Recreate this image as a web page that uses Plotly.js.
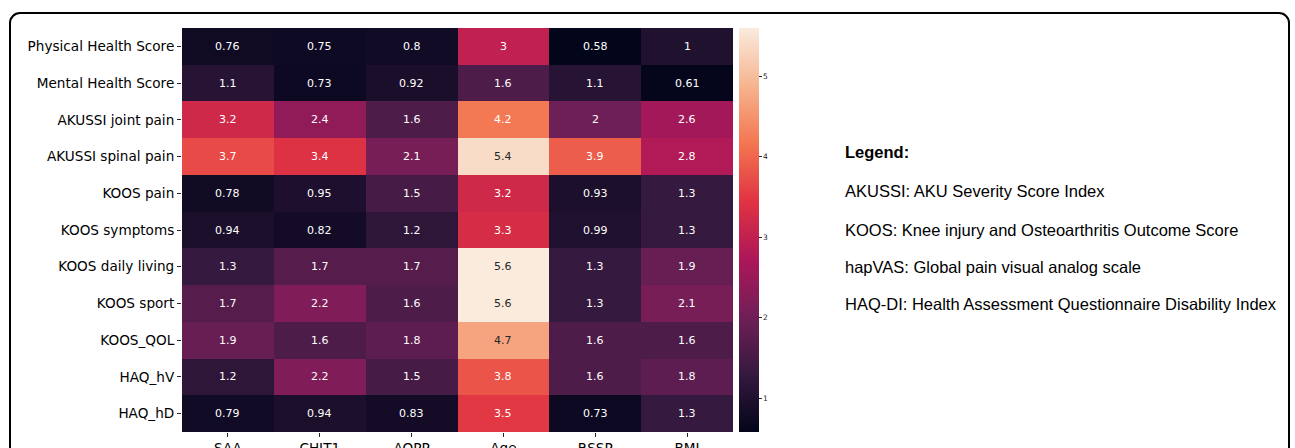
<!DOCTYPE html>
<html>
<head>
<meta charset="utf-8">
<script src="https://cdn.plot.ly/plotly-3.0.1.min.js"></script>
<style>
  html, body { margin: 0; padding: 0; background: #fff; overflow: hidden; }
  #wrap { position: relative; width: 1295px; height: 448px; overflow: hidden; }
  #frame { position: absolute; left: 9px; top: 12px; width: 1277px; height: 470px;
           border: 2px solid #000; border-radius: 11px; box-sizing: content-box; }
  #chart { position: absolute; left: 0; top: 0; width: 1295px; height: 448px; }
</style>
</head>
<body>
<div id="wrap">
  <div id="frame"></div>
  <div id="chart"></div>
</div>
<script>
// ---- data ----
var rowLabels = ["Physical Health Score", "Mental Health Score", "AKUSSI joint pain", "AKUSSI spinal pain",
  "KOOS pain", "KOOS symptoms", "KOOS daily living", "KOOS sport", "KOOS_QOL", "HAQ_hV", "HAQ_hD"];
var colLabels = ["SAA", "CHIT1", "AOPP", "Age", "RSSP", "BMI"];
var saa   = [0.76, 1.1, 3.2, 3.7, 0.78, 0.94, 1.3, 1.7, 1.9, 1.2, 0.79];
var chit1 = [0.75, 0.73, 2.4, 3.4, 0.95, 0.82, 1.7, 2.2, 1.6, 2.2, 0.94];
var aopp  = [0.8, 0.92, 1.6, 2.1, 1.5, 1.2, 1.7, 1.6, 1.8, 1.5, 0.83];
var age   = [3, 1.6, 4.2, 5.4, 3.2, 3.3, 5.6, 5.6, 4.7, 3.8, 3.5];
var rssp  = [0.58, 1.1, 2, 3.9, 0.93, 0.99, 1.3, 1.3, 1.6, 1.6, 0.73];
var bmi   = [1, 0.61, 2.6, 2.8, 1.3, 1.3, 1.9, 2.1, 1.6, 1.8, 1.3];
var colorbarTicks = [1, 2, 3, 4, 5];
var legendTitle = "Legend:";
var legendLines = [
  "AKUSSI: AKU Severity Score Index",
  "KOOS: Knee injury and Osteoarthritis Outcome Score",
  "hapVAS: Global pain visual analog scale",
  "HAQ-DI: Health Assessment Questionnaire Disability Index"
];

// ---- build matrix ----
var columns = [saa, chit1, aopp, age, rssp, bmi];
var z = rowLabels.map(function (r, i) { return columns.map(function (c) { return c[i]; }); });
var allVals = [].concat.apply([], z);
var zmin = Math.min.apply(null, allVals), zmax = Math.max.apply(null, allVals);

// seaborn "rocket" colormap (approx.)
var rocketStops = [
  [0.0, "#03051a"], [1/7, "#35193e"], [2/7, "#701f57"], [3/7, "#ad1759"],
  [4/7, "#e13342"], [5/7, "#f37651"], [6/7, "#f6b48f"], [1.0, "#faebdd"]
];
function hex2rgb(h) { return [parseInt(h.substr(1,2),16), parseInt(h.substr(3,2),16), parseInt(h.substr(5,2),16)]; }
function colorAt(t) {
  for (var k = 1; k < rocketStops.length; k++) {
    if (t <= rocketStops[k][0]) {
      var a = rocketStops[k-1], b = rocketStops[k];
      var f = (t - a[0]) / (b[0] - a[0]);
      var ca = hex2rgb(a[1]), cb = hex2rgb(b[1]);
      return [0,1,2].map(function (j) { return ca[j] + f * (cb[j] - ca[j]); });
    }
  }
  return hex2rgb(rocketStops[rocketStops.length-1][1]);
}
function lum(rgb) {
  var c = rgb.map(function (v) { v /= 255; return v <= 0.03928 ? v / 12.92 : Math.pow((v + 0.055) / 1.055, 2.4); });
  return 0.2126 * c[0] + 0.7152 * c[1] + 0.0722 * c[2];
}

// ---- geometry (pixels) ----
var W = 1295, H = 448;
var L = 182, R = 733, T = 28.3, B = 432.4;
var pw = R - L, ph = B - T;
function px2x(p) { return (p - L) / pw; }
function py2y(p) { return (B - p) / ph; }

var annotations = [];
rowLabels.forEach(function (r, i) {
  colLabels.forEach(function (c, j) {
    var v = z[i][j];
    var col = lum(colorAt((v - zmin) / (zmax - zmin))) > 0.408 ? "#262626" : "#ffffff";
    annotations.push({
      x: c, y: r, xref: "x", yref: "y", text: String(v), showarrow: false,
      font: { family: "DejaVu Sans", size: 11, color: col }
    });
  });
});

// legend text block
var legendX = px2x(842.5);
var legendYs = [152, 191, 230.5, 267.5, 304];
annotations.push({
  x: legendX, y: py2y(legendYs[0]), xref: "paper", yref: "paper", xanchor: "left", yanchor: "middle",
  text: "<b>" + legendTitle + "</b>", showarrow: false,
  font: { family: "Liberation Sans", size: 16.5, color: "#000" }
});
legendLines.forEach(function (t, k) {
  annotations.push({
    x: legendX, y: py2y(legendYs[k+1]), xref: "paper", yref: "paper", xanchor: "left", yanchor: "middle",
    text: t, showarrow: false,
    font: { family: "Liberation Sans", size: 16.5, color: "#000" }
  });
});

var trace = {
  type: "heatmap",
  x: colLabels, y: rowLabels, z: z,
  zmin: zmin, zmax: zmax,
  colorscale: rocketStops,
  hoverinfo: "skip",
  colorbar: {
    x: px2x(739), xanchor: "left", xpad: 0,
    y: 0.5, yanchor: "middle", ypad: 0, len: 1, lenmode: "fraction",
    thickness: 20, thicknessmode: "pixels",
    outlinewidth: 0,
    tickmode: "array", tickvals: colorbarTicks, ticktext: colorbarTicks.map(String),
    ticks: "outside", ticklen: 3, tickwidth: 1, tickcolor: "#262626",
    tickfont: { family: "DejaVu Sans", size: 7.5, color: "#262626" }
  }
};

var layout = {
  width: W, height: H,
  margin: { l: L, r: W - R, t: T, b: H - B, pad: 0 },
  paper_bgcolor: "rgba(0,0,0,0)", plot_bgcolor: "rgba(0,0,0,0)",
  showlegend: false,
  xaxis: {
    type: "category", showgrid: false, zeroline: false, showline: false,
    ticks: "outside", ticklen: 4, tickwidth: 1, tickcolor: "#262626",
    tickfont: { family: "DejaVu Sans", size: 13.6, color: "#000" }
  },
  yaxis: {
    type: "category", autorange: "reversed", showgrid: false, zeroline: false, showline: false,
    ticks: "outside", ticklen: 4, tickwidth: 1, tickcolor: "#262626",
    tickfont: { family: "DejaVu Sans", size: 13.6, color: "#000" }
  },
  annotations: annotations
};

Plotly.newPlot("chart", [trace], layout, { displayModeBar: false, staticPlot: true });
</script>
</body>
</html>
